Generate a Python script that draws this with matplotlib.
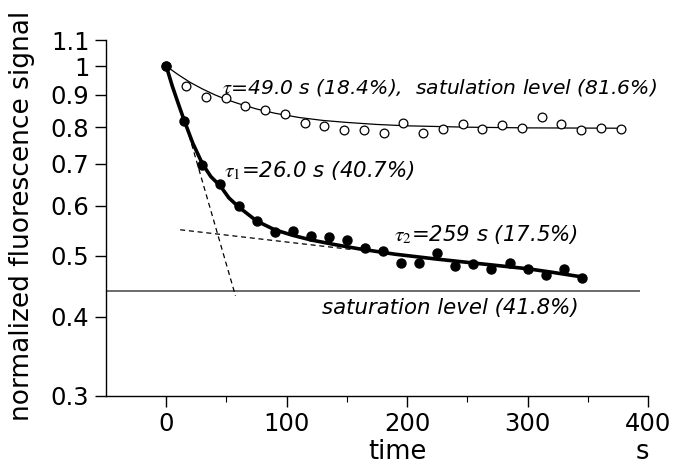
import matplotlib
matplotlib.use("Agg")
from matplotlib import pyplot as plt
from matplotlib.ticker import FixedLocator, FixedFormatter, NullLocator

plt.rcParams['font.family'] = ['DejaVu Sans']
plt.rcParams['mathtext.fontset'] = 'stix'

# open circles (one exponential)
t_open = [0, 16.4, 32.8, 49.2, 65.6, 82, 98.4, 114.8, 131.2, 147.6, 164, 180.4,
          196.8, 213.2, 229.6, 246, 262.4, 278.8, 295.2, 311.6, 328, 344.4, 360.8, 377.2]
y_open = [1.0, 0.931, 0.894, 0.889, 0.865, 0.852, 0.841, 0.812, 0.804, 0.792, 0.793, 0.783,
          0.812, 0.782, 0.795, 0.810, 0.794, 0.807, 0.797, 0.830, 0.808, 0.792, 0.797, 0.794]
# fitted curve for open circles
t_open_fit = [0, 10, 20, 30, 40, 50, 60, 75, 90, 110, 130, 150, 175, 200, 250, 300, 378]
y_open_fit = [1.0, 0.969, 0.942, 0.920, 0.901, 0.885, 0.872, 0.855, 0.842, 0.829, 0.820,
              0.814, 0.808, 0.804, 0.800, 0.798, 0.797]

# filled circles (two exponentials)
t_fill = [0, 15, 30, 45, 60, 75, 90, 105, 120, 135, 150, 165,
          180, 195, 210, 225, 240, 255, 270, 285, 300, 315, 330, 345]
y_fill = [1.0, 0.819, 0.697, 0.650, 0.599, 0.568, 0.546, 0.548, 0.537, 0.535, 0.529, 0.514,
          0.509, 0.487, 0.487, 0.506, 0.481, 0.485, 0.477, 0.487, 0.476, 0.467, 0.477, 0.461]
t_fill_fit = [0, 5, 10, 15, 22, 30, 37, 45, 52, 60, 75, 90, 105, 120, 140, 160, 190,
              225, 260, 300, 320, 345]
y_fill_fit = [1.0, 0.93, 0.872, 0.819, 0.755, 0.700, 0.668, 0.645, 0.618, 0.598, 0.568,
              0.550, 0.539, 0.530, 0.521, 0.513, 0.503, 0.494, 0.486, 0.477, 0.471, 0.463]

# asymptote (dashed) lines and saturation level
fast_t = [17, 57.5]
fast_y = [0.80, 0.432]
slow_t = [11.6, 153]
slow_y = [0.550, 0.512]
sat_level = 0.44

y_ticks = [0.3, 0.4, 0.5, 0.6, 0.7, 0.8, 0.9, 1.0, 1.1]
y_tick_labels = ['0.3', '0.4', '0.5', '0.6', '0.7', '0.8', '0.9', '1', '1.1']
x_ticks = [0, 100, 200, 300, 400]
x_minor = [50, 150, 250, 350]


def main():
    fig = plt.figure(figsize=(6.73, 4.68), dpi=100)
    ax = fig.add_axes([0.1575, 0.1545, 0.963 - 0.1575, 0.9145 - 0.1545])

    ax.hlines(sat_level, -50, 393, color='#444444', lw=1.1)
    ax.plot(fast_t, fast_y, color='k', lw=0.9, ls=(0, (4, 3)))
    ax.plot(slow_t, slow_y, color='k', lw=0.9, ls=(0, (4, 3)))

    ax.plot(t_open_fit, y_open_fit, color='k', lw=0.9)
    ax.plot(t_fill_fit, y_fill_fit, color='k', lw=2.6, solid_capstyle='round')
    ax.plot(t_open, y_open, 'o', ms=6.3, mfc='white', mec='k', mew=0.9)
    ax.plot(t_fill, y_fill, 'o', ms=6.5, mfc='k', mec='k')

    ax.set_yscale('log')
    ax.set_xlim(-50, 400)
    ax.set_ylim(0.3, 1.1)
    ax.yaxis.set_major_locator(FixedLocator(y_ticks))
    ax.yaxis.set_major_formatter(FixedFormatter(y_tick_labels))
    ax.yaxis.set_minor_locator(NullLocator())
    ax.xaxis.set_major_locator(FixedLocator(x_ticks))
    ax.xaxis.set_minor_locator(FixedLocator(x_minor))

    for s in ['top', 'right']:
        ax.spines[s].set_visible(False)
    for s in ['left', 'bottom']:
        ax.spines[s].set_linewidth(1.0)
    ax.tick_params(which='major', length=8, width=1.0, labelsize=17.5, pad=4)
    ax.tick_params(which='minor', length=4, width=0.8)

    txt = dict(fontsize=15.3, style='italic', color='k', clip_on=False)
    ax.text(46.5, 0.926, r'$\tau$=49.0 s (18.4%),  satulation level (81.6%)',
            ha='left', va='center', **dict(txt, fontsize=14.6))
    ax.text(48, 0.684, r'$\tau_1$=26.0 s (40.7%)', ha='left', va='center', **txt)
    ax.text(342, 0.541, r'$\tau_2$=259 s (17.5%)', ha='right', va='center', **txt)
    ax.text(342, 0.414, 'saturation level (41.8%)', ha='right', va='center', **txt)

    fig.text(22 / 673, 1 - 216 / 468, 'normalized fluorescence signal',
             rotation=90, ha='center', va='center', fontsize=19)
    fig.text(397 / 673, 1 - 452 / 468, 'time', ha='center', va='center', fontsize=18.5)
    fig.text(642 / 673, 1 - 452 / 468, 's', ha='center', va='center', fontsize=18.5)

    fig.savefig('out.png', dpi=100)


if __name__ == '__main__':
    main()
